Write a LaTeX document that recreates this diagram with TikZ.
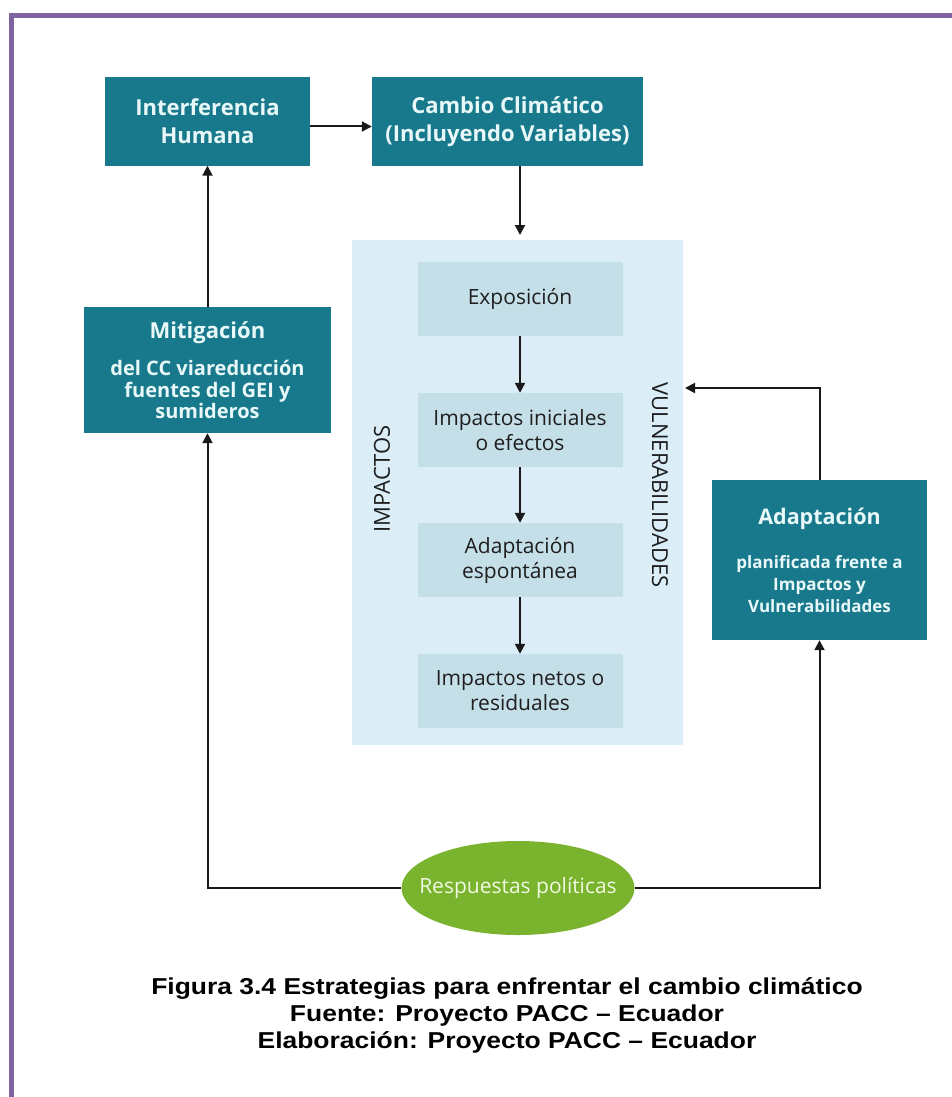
\documentclass[tikz,border=0pt]{standalone}
\usepackage{fontspec}
\setmainfont{Open Sans}
\newfontfamily\capfont[FakeStretch=1.15]{Liberation Sans}
\usetikzlibrary{arrows.meta,shapes.geometric}
\definecolor{tealbg}{RGB}{25,121,140}
\definecolor{boxtext}{RGB}{232,248,248}
\definecolor{panelbg}{RGB}{219,238,248}
\definecolor{innerbg}{RGB}{197,223,232}
\definecolor{greenbg}{RGB}{122,179,46}
\definecolor{resptext}{RGB}{240,250,225}
\definecolor{bordercol}{RGB}{128,100,162}
\definecolor{linecol}{RGB}{25,25,25}
\definecolor{textdark}{RGB}{30,30,30}
\begin{document}
\begin{tikzpicture}[x=1pt,y=-1pt,
  tbox/.style={fill=tealbg, draw=none, text=boxtext, align=center, inner sep=0pt,
    font=\bfseries\fontsize{22}{28}\selectfont},
  ibox/.style={fill=innerbg, draw=none, text=textdark, align=center, inner sep=0pt,
    minimum width=205pt, minimum height=74pt, font=\fontsize{21}{25}\selectfont},
  panelbox/.style={fill=panelbg, draw=none, inner sep=0pt},
  ptext/.style={text=textdark, inner sep=0pt, font=\fontsize{22}{24}\selectfont},
  arr/.style={draw=linecol, line width=2pt, -{Triangle[length=10pt,width=10pt]}},
  capstyle/.style={align=center, text=black, inner sep=0pt,
    font=\capfont\bfseries\fontsize{23}{27}\selectfont}]
\useasboundingbox (0,0) rectangle (952,1097);
\fill[white] (0,0) rectangle (952,1097);
\draw[bordercol, line width=5pt] (11.5,1097) -- (11.5,15.5) -- (952,15.5);

\node[tbox, minimum width=205pt, minimum height=88pt] (inter) at (207.5,121.5) {Interferencia\\Humana};
\node[tbox, minimum width=271pt, minimum height=88pt] (cambio) at (507.5,121.5) {Cambio Climático\\(Incluyendo Variables)};

\node[panelbox, minimum width=331pt, minimum height=505pt] (panel) at (517.5,492.5) {};
\node[ibox] (expo) at (520,299) {Exposición};
\node[ibox] (inic) at (520,430) {Impactos iniciales\\o efectos};
\node[ibox] (adesp) at (520,560) {Adaptación\\espontánea};
\node[ibox] (netos) at (520,691) {Impactos netos o\\residuales};
\node[ptext, rotate=90] (impl) at (382,479) {IMPACTOS};
\node[ptext, rotate=-90] (vull) at (660,485) {VULNERABILIDADES};

\node[tbox, minimum width=247pt, minimum height=126pt, font=\bfseries\fontsize{20}{21.5}\selectfont] (mitig) at (207.5,370)
  {{\fontsize{22}{26}\selectfont Mitigación}\\[16pt]del CC viareducción\\fuentes del GEI y\\sumideros};
\node[tbox, minimum width=215pt, minimum height=160pt, font=\bfseries\fontsize{17}{22}\selectfont] (adapt) at (819.5,560)
  {{\fontsize{21.5}{26}\selectfont Adaptación}\\[22pt]planificada frente a\\Impactos y\\Vulnerabilidades};

\node[ellipse, fill=greenbg, draw=none, minimum width=233pt, minimum height=94pt, inner xsep=-20pt, inner ysep=0pt,
  text=resptext, font=\fontsize{21}{25}\selectfont] (resp) at (518,888) {Respuestas políticas};

\coordinate (cin) at (520,235);
\coordinate (vin) at (685,388);
\draw[arr] ([yshift=-5pt]inter.east) -- ([yshift=-5pt]cambio.west);
\draw[arr] (cambio.south -| cin) -- (cin);
\draw[arr] (expo.south) -- (inic.north);
\draw[arr] (inic.south) -- (adesp.north);
\draw[arr] (adesp.south) -- (netos.north);
\draw[arr] (mitig.north) -- (inter.south);
\draw[arr] (resp.west) -| (mitig.south);
\draw[arr] (resp.east) -| (adapt.south);
\draw[arr] (adapt.north) |- (vin);

\node[capstyle] (cap) at (507,1015) {Figura 3.4 Estrategias para enfrentar el cambio climático\\Fuente: Proyecto PACC – Ecuador\\Elaboración: Proyecto PACC – Ecuador};
\end{tikzpicture}
\end{document}
